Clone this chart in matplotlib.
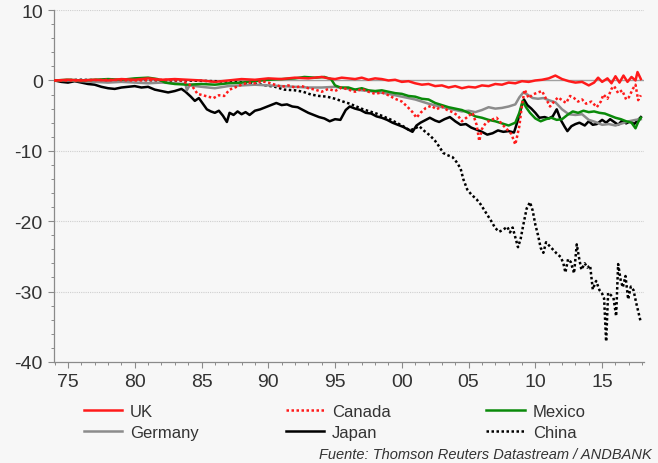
import matplotlib
matplotlib.use("Agg")
import matplotlib.pyplot as plt
from matplotlib.lines import Line2D
from matplotlib.ticker import MultipleLocator, FixedLocator

plt.rcParams['font.family'] = ['Liberation Sans', 'DejaVu Sans']
plt.rcParams['axes.unicode_minus'] = False

# ---------------- data ----------------
japan_x = [1974.0, 1974.5, 1975.0, 1975.5, 1976.0, 1976.5, 1977.0, 1977.5, 1978.0, 1978.5,
           1979.0, 1979.5, 1980.0, 1980.5, 1981.0, 1981.5, 1982.0, 1982.5, 1983.0, 1983.5,
           1983.8, 1984.2, 1984.5, 1984.8, 1985.1, 1985.4, 1985.7, 1986.0, 1986.3, 1986.6,
           1986.9, 1987.1, 1987.4, 1987.7, 1988.0, 1988.3, 1988.6, 1989.0, 1989.4, 1989.8,
           1990.2, 1990.6, 1991.0, 1991.4, 1991.8, 1992.2, 1992.6, 1993.0, 1993.4, 1993.8,
           1994.2, 1994.6, 1995.0, 1995.4, 1995.8, 1996.1, 1996.5, 1996.9, 1997.3, 1997.7,
           1998.1, 1998.5, 1998.9, 1999.3, 1999.7, 2000.1, 2000.5, 2000.8, 2001.1, 2001.4,
           2001.8, 2002.1, 2002.5, 2002.8, 2003.2, 2003.6, 2004.0, 2004.4, 2004.8, 2005.2,
           2005.6, 2006.0, 2006.4, 2006.8, 2007.2, 2007.6, 2008.0, 2008.4, 2008.7, 2009.0,
           2009.15, 2009.4, 2009.7, 2010.0, 2010.3, 2010.7, 2011.0, 2011.3, 2011.6, 2011.9,
           2012.2, 2012.4, 2012.7, 2013.0, 2013.3, 2013.7, 2014.0, 2014.3, 2014.6, 2015.0,
           2015.3, 2015.6, 2015.9, 2016.2, 2016.5, 2016.8, 2017.1, 2017.4, 2017.7, 2017.9]
japan_y = [0.0, -0.2, -0.3, -0.1, -0.3, -0.5, -0.6, -0.9, -1.1, -1.2,
           -1.0, -0.9, -0.8, -1.0, -0.9, -1.3, -1.5, -1.7, -1.5, -1.2,
           -1.6, -2.3, -2.9, -2.5, -3.3, -4.1, -4.4, -4.6, -4.3, -5.0,
           -5.9, -4.6, -4.9, -4.4, -4.8, -4.5, -4.9, -4.3, -4.1, -3.8,
           -3.5, -3.2, -3.5, -3.4, -3.7, -3.8, -4.2, -4.6, -4.9, -5.2,
           -5.4, -5.8, -5.5, -5.6, -4.2, -3.7, -4.0, -4.2, -4.6, -4.7,
           -5.1, -5.3, -5.6, -6.0, -6.3, -6.6, -7.0, -7.3, -6.4, -6.0,
           -5.6, -5.3, -5.7, -5.9, -5.5, -5.2, -5.8, -6.3, -6.2, -6.7,
           -7.0, -7.3, -7.7, -7.5, -7.1, -7.3, -7.2, -7.4, -5.6, -3.5,
           -2.7, -3.5, -4.0, -4.6, -5.3, -5.2, -5.4, -5.1, -4.1, -5.6,
           -6.6, -7.2, -6.5, -6.2, -6.0, -6.4, -5.8, -6.3, -6.2, -5.6,
           -6.0, -5.5, -5.9, -6.3, -5.7, -6.1, -5.8, -6.2, -5.6, -5.2]

china_x = [1974.0, 1976.0, 1978.0, 1980.0, 1982.0, 1984.0, 1986.0, 1987.5, 1988.5, 1989.5,
           1990.5, 1991.2, 1992.0, 1992.6, 1993.2, 1993.8, 1994.4, 1995.0, 1995.6, 1996.1,
           1996.6, 1997.1, 1997.6, 1998.1, 1998.6, 1999.1, 1999.6, 2000.1, 2000.6, 2001.0,
           2001.3, 2001.7, 2002.1, 2002.5, 2002.8, 2003.1, 2003.4, 2003.8, 2004.1, 2004.4,
           2004.6, 2004.9, 2005.2, 2005.6, 2005.9, 2006.3, 2006.7, 2007.0, 2007.3, 2007.6,
           2007.9, 2008.1, 2008.3, 2008.5, 2008.7, 2008.9, 2009.1, 2009.35, 2009.6, 2009.8,
           2010.0, 2010.2, 2010.4, 2010.6, 2010.8, 2011.0, 2011.3, 2011.6, 2011.9, 2012.1,
           2012.25, 2012.45, 2012.65, 2012.9, 2013.1, 2013.3, 2013.45, 2013.7, 2013.9, 2014.1,
           2014.3, 2014.55, 2014.8, 2015.0, 2015.15, 2015.3, 2015.45, 2015.65, 2015.85, 2016.05,
           2016.2, 2016.4, 2016.55, 2016.75, 2016.95, 2017.15, 2017.35, 2017.55, 2017.75, 2017.9]
china_y = [0.0, 0.1, 0.0, 0.1, 0.0, 0.0, -0.1, -0.2, -0.3, -0.6,
           -0.9, -1.3, -1.4, -1.6, -2.0, -2.2, -2.3, -2.6, -3.0, -3.3,
           -3.7, -4.1, -4.4, -4.7, -5.1, -5.5, -6.0, -6.5, -7.1, -6.8,
           -6.5, -7.2, -7.8, -8.6, -9.4, -10.3, -10.6, -10.9, -11.6, -12.5,
           -14.0, -15.5, -16.2, -16.9, -17.6, -18.8, -20.0, -21.0, -21.5, -21.2,
           -20.8, -21.6, -20.9, -22.3, -23.7, -22.5, -20.5, -18.2, -17.3, -18.5,
           -20.5, -22.0, -23.8, -24.5, -23.0, -23.4, -24.0, -24.6, -25.1, -26.0,
           -27.3, -25.4, -25.8, -27.4, -23.3, -25.5, -26.9, -26.0, -26.6, -26.3,
           -29.7, -28.5, -29.8, -30.3, -31.0, -37.1, -30.2, -30.5, -30.9, -33.5,
           -26.1, -28.5, -29.4, -27.8, -31.1, -29.3, -29.8, -31.6, -33.2, -34.4]

uk_x = [1974, 1975, 1976, 1977, 1978, 1979, 1980, 1981, 1982, 1983,
        1984, 1985, 1986, 1987, 1988, 1989, 1990, 1991, 1992, 1993,
        1994, 1994.5, 1995, 1995.5, 1996, 1996.5, 1997, 1997.5, 1998, 1998.5,
        1999, 1999.5, 2000, 2000.5, 2001, 2001.5, 2002, 2002.5, 2003, 2003.5,
        2004, 2004.5, 2005, 2005.5, 2006, 2006.5, 2007, 2007.5, 2008, 2008.5,
        2009, 2009.5, 2010, 2010.5, 2011, 2011.5, 2012, 2012.5, 2013, 2013.5,
        2014, 2014.4, 2014.7, 2015, 2015.4, 2015.7, 2016, 2016.3, 2016.6, 2016.9,
        2017.2, 2017.5, 2017.65, 2017.9]
uk_y = [0.0, 0.1, 0.0, 0.1, 0.0, 0.2, 0.1, 0.3, 0.1, 0.2,
        0.1, 0.0, -0.2, 0.0, 0.2, 0.1, 0.3, 0.2, 0.4, 0.3,
        0.5, 0.3, 0.2, 0.4, 0.3, 0.2, 0.4, 0.1, 0.3, 0.2,
        0.0, 0.1, -0.2, -0.1, -0.4, -0.6, -0.5, -0.8, -0.7, -1.0,
        -0.8, -1.1, -0.9, -1.0, -0.7, -0.8, -0.5, -0.6, -0.3, -0.4,
        -0.1, -0.2, 0.0, 0.1, 0.3, 0.7, 0.2, -0.1, -0.3, -0.2,
        -0.7, -0.3, 0.4, -0.2, 0.3, -0.4, 0.6, -0.3, 0.7, -0.2,
        0.5, 0.0, 1.2, 0.2]

canada_x = [1974, 1976, 1978, 1980, 1982, 1983.5, 1984.3, 1984.7, 1985.1, 1985.5,
            1985.9, 1986.3, 1986.7, 1987.1, 1987.5, 1988, 1988.5, 1989, 1989.5, 1990,
            1990.5, 1991, 1991.5, 1992, 1992.5, 1993, 1993.5, 1994, 1994.5, 1995,
            1995.5, 1996, 1996.5, 1997, 1997.5, 1998, 1998.5, 1999, 1999.5, 2000,
            2000.4, 2000.8, 2001.1, 2001.4, 2001.8, 2002.2, 2002.6, 2003, 2003.4, 2003.8,
            2004.2, 2004.5, 2004.9, 2005.3, 2005.6, 2005.8, 2006.0, 2006.3, 2006.7, 2007.1,
            2007.5, 2007.9, 2008.2, 2008.5, 2008.8, 2009.0, 2009.2, 2009.5, 2009.8, 2010.2,
            2010.5, 2010.8, 2011.1, 2011.4, 2011.7, 2012.0, 2012.3, 2012.6, 2012.9, 2013.2,
            2013.5, 2013.8, 2014.2, 2014.6, 2014.9, 2015.1, 2015.4, 2015.7, 2015.9, 2016.2,
            2016.5, 2016.8, 2017.0, 2017.3, 2017.5, 2017.7, 2017.9]
canada_y = [0.0, 0.0, 0.1, 0.0, 0.1, 0.0, -0.8, -1.9, -2.1, -2.3,
            -2.5, -2.1, -2.2, -1.3, -1.0, -0.6, -0.3, -0.4, -0.1, -0.3,
            -0.6, -0.9, -0.7, -1.0, -0.8, -1.1, -1.3, -1.6, -1.2, -1.5,
            -1.0, -1.3, -1.6, -1.2, -1.6, -1.9, -1.7, -2.1, -2.6, -3.0,
            -3.7, -4.5, -5.3, -4.6, -3.9, -3.6, -4.1, -3.7, -4.2, -4.5,
            -5.0, -5.8, -5.2, -4.6, -6.3, -8.6, -6.9, -6.0, -5.6, -5.3,
            -6.2, -7.0, -7.6, -9.1, -6.5, -3.5, -1.3, -2.5, -2.0, -1.7,
            -1.5, -2.6, -3.7, -3.0, -2.4, -2.8, -3.2, -2.2, -2.5, -3.0,
            -2.7, -3.3, -3.0, -3.8, -3.0, -2.0, -2.6, -1.2, -0.8, -1.8,
            -1.4, -2.7, -2.4, -1.2, -0.6, -2.8, -2.1]

mexico_x = [1974, 1975, 1976, 1977, 1978, 1979, 1980, 1981, 1981.7, 1982.3,
            1983, 1984, 1985, 1986, 1987, 1988, 1989, 1990, 1991, 1992,
            1992.7, 1993.5, 1994.2, 1994.7, 1995.0, 1995.4, 1996, 1996.5, 1997, 1997.5,
            1998, 1998.5, 1999, 1999.5, 2000, 2000.5, 2001, 2001.5, 2002, 2002.5,
            2003, 2003.5, 2004, 2004.5, 2005, 2005.5, 2006, 2006.5, 2007, 2007.5,
            2008, 2008.5, 2008.8, 2009.05, 2009.3, 2009.6, 2010, 2010.4, 2010.8, 2011.2,
            2011.6, 2012.0, 2012.4, 2012.8, 2013.2, 2013.6, 2014.0, 2014.4, 2014.8, 2015.2,
            2015.6, 2016.0, 2016.4, 2016.8, 2017.2, 2017.5, 2017.7, 2017.9]
mexico_y = [0.0, 0.1, 0.0, 0.1, 0.2, 0.1, 0.3, 0.4, 0.2, -0.3,
            -0.5, -0.6, -0.5, -0.6, -0.4, -0.3, -0.1, 0.1, 0.2, 0.3,
            0.5, 0.4, 0.5, 0.2, -0.7, -1.0, -1.0, -1.3, -1.1, -1.4,
            -1.5, -1.4, -1.6, -1.8, -1.9, -2.2, -2.3, -2.6, -2.7, -3.2,
            -3.5, -3.8, -4.0, -4.2, -4.6, -5.1, -5.3, -5.6, -5.8, -6.1,
            -6.4, -6.0, -4.6, -2.9, -3.8, -4.6, -5.4, -5.8, -5.5, -5.3,
            -5.6, -5.5, -4.9, -4.4, -4.6, -4.3, -4.5, -4.4, -4.6, -4.7,
            -5.0, -5.3, -5.5, -5.8, -6.0, -6.8, -5.9, -5.3]

germany_x = [1974, 1975, 1976, 1977, 1978, 1979, 1980, 1981, 1982, 1983,
             1983.8, 1983.9, 1984.1, 1985, 1986, 1987, 1988, 1989, 1990, 1991,
             1992, 1993, 1994, 1995, 1996, 1997, 1998, 1999, 2000, 2001,
             2002, 2003, 2004, 2004.5, 2005, 2005.5, 2006, 2006.5, 2007, 2007.5,
             2008, 2008.5, 2008.8, 2009.1, 2009.4, 2009.8, 2010.2, 2010.6, 2011.0, 2011.5,
             2012.0, 2012.5, 2013.0, 2013.5, 2014.0, 2014.5, 2015.0, 2015.5, 2016.0, 2016.5,
             2017.0, 2017.5, 2017.9]
germany_y = [0.0, 0.0, -0.1, -0.2, -0.3, -0.2, -0.3, -0.4, -0.3, -0.4,
             -0.5, -1.4, -0.7, -0.9, -1.1, -0.8, -0.7, -0.6, -0.7, -0.8,
             -0.9, -1.0, -1.0, -0.9, -1.2, -1.4, -1.6, -1.9, -2.3, -2.7,
             -3.3, -3.8, -4.2, -4.4, -4.3, -4.5, -4.2, -3.8, -4.0, -3.9,
             -3.7, -3.4, -2.4, -1.7, -2.0, -2.5, -2.6, -2.5, -2.8, -3.1,
             -4.1, -4.8, -4.9, -4.8, -5.6, -5.9, -6.3, -6.2, -6.4, -6.1,
             -5.8, -5.6, -5.5]

xtick_years = [1975, 1980, 1985, 1990, 1995, 2000, 2005, 2010, 2015]
xtick_labels = ["75", "80", "85", "90", "95", "00", "05", "10", "15"]
yticks = [-40, -30, -20, -10, 0, 10]

# ---------------- figure ----------------
bg = "#f7f7f7"
fig = plt.figure(figsize=(6.58, 4.64), dpi=100, facecolor=bg)
ax = fig.add_axes([0.082, 0.218, 0.897, 0.758], facecolor=bg)

ax.axhline(0, color="#a0a0a0", lw=1.0, zorder=1)
for v in [10, -10, -20, -30]:
    ax.axhline(v, color="#cfcfcf", lw=0.8, ls=(0, (1, 1)), zorder=1)

lw = 1.8
ax.plot(china_x, china_y, color="black", lw=lw, ls=(0, (1, 1)), zorder=3)
ax.plot(japan_x, japan_y, color="black", lw=lw, zorder=4)
ax.plot(germany_x, germany_y, color="#8c8c8c", lw=lw, zorder=5)
ax.plot(mexico_x, mexico_y, color="#0a8a0a", lw=lw, zorder=6)
ax.plot(canada_x, canada_y, color="#ff1a1a", lw=lw, ls=(0, (1, 1)), zorder=7)
ax.plot(uk_x, uk_y, color="#ff1a1a", lw=lw, zorder=8)

ax.set_xlim(1973.95, 2018.15)
ax.set_ylim(-40, 10)
ax.set_yticks(yticks)
ax.yaxis.set_minor_locator(MultipleLocator(2))
ax.set_xticks(xtick_years)
ax.set_xticklabels(xtick_labels)
ax.xaxis.set_minor_locator(FixedLocator(list(range(1974, 2019))))

for s in ["top", "right"]:
    ax.spines[s].set_visible(False)
for s in ["left", "bottom"]:
    ax.spines[s].set_color("#8a8a8a")
    ax.spines[s].set_linewidth(0.9)

ax.tick_params(axis="both", which="major", direction="out", length=4, width=0.8,
               color="#8a8a8a", labelsize=14, labelcolor="#333333", pad=4)
ax.tick_params(axis="both", which="minor", direction="out", length=2, width=0.7,
               color="#8a8a8a")

# legend (three columns of two entries)
cols = [
    [("UK", "#ff1a1a", "-"), ("Germany", "#8c8c8c", "-")],
    [("Canada", "#ff1a1a", (0, (1, 1))), ("Japan", "black", "-")],
    [("Mexico", "#0a8a0a", "-"), ("China", "black", (0, (1, 1)))],
]
xs = [0.127, 0.434, 0.739]
for x0, col in zip(xs, cols):
    handles = [Line2D([], [], color=c, ls=ls, lw=lw) for _, c, ls in col]
    labels = [n for n, _, _ in col]
    leg = fig.legend(handles, labels, loc="upper left", bbox_to_anchor=(x0, 0.127),
                     frameon=False, fontsize=12, handlelength=2.3, handletextpad=0.5,
                     labelspacing=0.33, borderaxespad=0, borderpad=0)
    for t in leg.get_texts():
        t.set_color("#333333")

fig.text(0.991, 0.02, "Fuente: Thomson Reuters Datastream / ANDBANK", ha="right", va="center",
         fontsize=10.5, style="italic", color="#333333")

fig.savefig("out.png", dpi=100, facecolor=bg)
